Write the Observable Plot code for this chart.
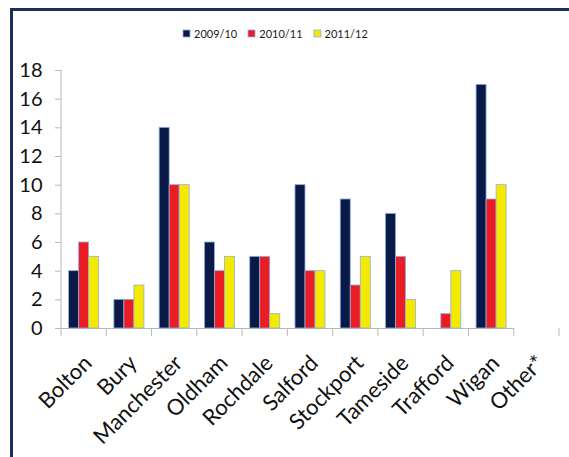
<!DOCTYPE html>
<html>
<head>
<meta charset="utf-8">
<script src="https://cdn.jsdelivr.net/npm/d3@7"></script>
<script src="https://cdn.jsdelivr.net/npm/@observablehq/plot@0.6"></script>
<style>
  html, body { margin: 0; padding: 0; background: #fff; }
  body { position: relative; width: 569px; height: 457px; overflow: hidden; font-family: Lato, sans-serif; }
  #box { position: absolute; left: 10px; top: 8px; width: 556px; height: 470px;
         border-left: 3px solid #1b2d5c; border-top: 3px solid #1b2d5c; border-right: 1px solid #dcdcdc; }
  #legend { position: absolute; left: 183px; top: 27px; display: flex; justify-content: flex-start; }
  #legend svg rect { stroke: #8fb0dc; stroke-width: 0.8; }
  #chart { position: absolute; left: 0; top: 46px; }
</style>
</head>
<body>
<div id="box"></div>
<div id="legend"></div>
<div id="chart"></div>
<script>
// Greater Manchester districts and counts per season
const areas = ["Bolton", "Bury", "Manchester", "Oldham", "Rochdale", "Salford",
               "Stockport", "Tameside", "Trafford", "Wigan", "Other*"];
const seasons = ["2009/10", "2010/11", "2011/12"];
const counts2009 = [4, 2, 14, 6, 5, 10, 9, 8, null, 17, null];
const counts2010 = [6, 2, 10, 4, 5, 4, 3, 5, 1, 9, null];
const counts2011 = [5, 3, 10, 5, 1, 4, 5, 2, 4, 10, null];
const seasonColors = ["#0a1a48", "#ec1c24", "#f4ea00"];
const yTicks = [0, 2, 4, 6, 8, 10, 12, 14, 16, 18];

const seriesBySeason = [counts2009, counts2010, counts2011];
const rows = areas.flatMap((area, i) =>
  seasons.map((season, j) => ({area, season, count: seriesBySeason[j][i]}))
).filter(d => d.count != null);

const legend = Plot.legend({
  color: {domain: seasons, range: seasonColors},
  legend: "swatches",
  swatchSize: 7,
  style: {fontFamily: "Lato, sans-serif", fontSize: "11px", color: "#1a1a1a"}
});
legend.style.minHeight = "0";
legend.style.margin = "0";
// tighten the spacing between swatch entries
for (const item of legend.children) {
  const sw = item.querySelector && item.querySelector("svg");
  if (!sw) continue;
  item.style.setProperty("margin-right", "11px", "important");
  sw.style.setProperty("margin-right", "4px", "important");
}
document.getElementById("legend").append(legend);

const chart = Plot.plot({
  width: 569,
  height: 411,
  marginLeft: 61,
  marginRight: 10,
  marginTop: 24,
  marginBottom: 129,
  style: {fontFamily: "Lato, sans-serif", background: "transparent", color: "#111"},
  fx: {domain: areas, padding: 0, round: false, label: null},
  x: {domain: seasons, paddingInner: 0, paddingOuter: 0.76, round: false, axis: null},
  y: {domain: [0, 18], label: null},
  color: {domain: seasons, range: seasonColors},
  marks: [
    Plot.ruleY([0], {stroke: "#b8b8b8"}),
    Plot.barY(rows, {fx: "area", x: "season", y: "count", fill: "season",
                     stroke: "#8fb0dc", strokeWidth: 0.8}),
    Plot.axisY({ticks: yTicks, tickSize: 6, tickPadding: 13, fontSize: 20,
                stroke: "#b8b8b8", label: null}),
    Plot.axisFx({anchor: "bottom", tickRotate: -45, tickSize: 0, tickPadding: 22,
                 dx: 4, dy: 9, fontSize: 22, label: null})
  ]
});

// y-axis line and category boundary ticks along the baseline
const fx = chart.scale("fx");
const y = chart.scale("y");
const y0 = y.apply(0);
const edges = areas.map(a => fx.apply(a));
edges.push(edges[edges.length - 1] + fx.step);
const g = d3.select(chart).append("g").attr("stroke", "#b8b8b8").attr("fill", "none");
g.append("line")
  .attr("x1", edges[0]).attr("x2", edges[0])
  .attr("y1", y.apply(18)).attr("y2", y0);
g.selectAll("line.edge").data(edges).join("line")
  .attr("class", "edge")
  .attr("x1", d => d).attr("x2", d => d)
  .attr("y1", y0).attr("y2", y0 + 8);

document.getElementById("chart").append(chart);
</script>
</body>
</html>
